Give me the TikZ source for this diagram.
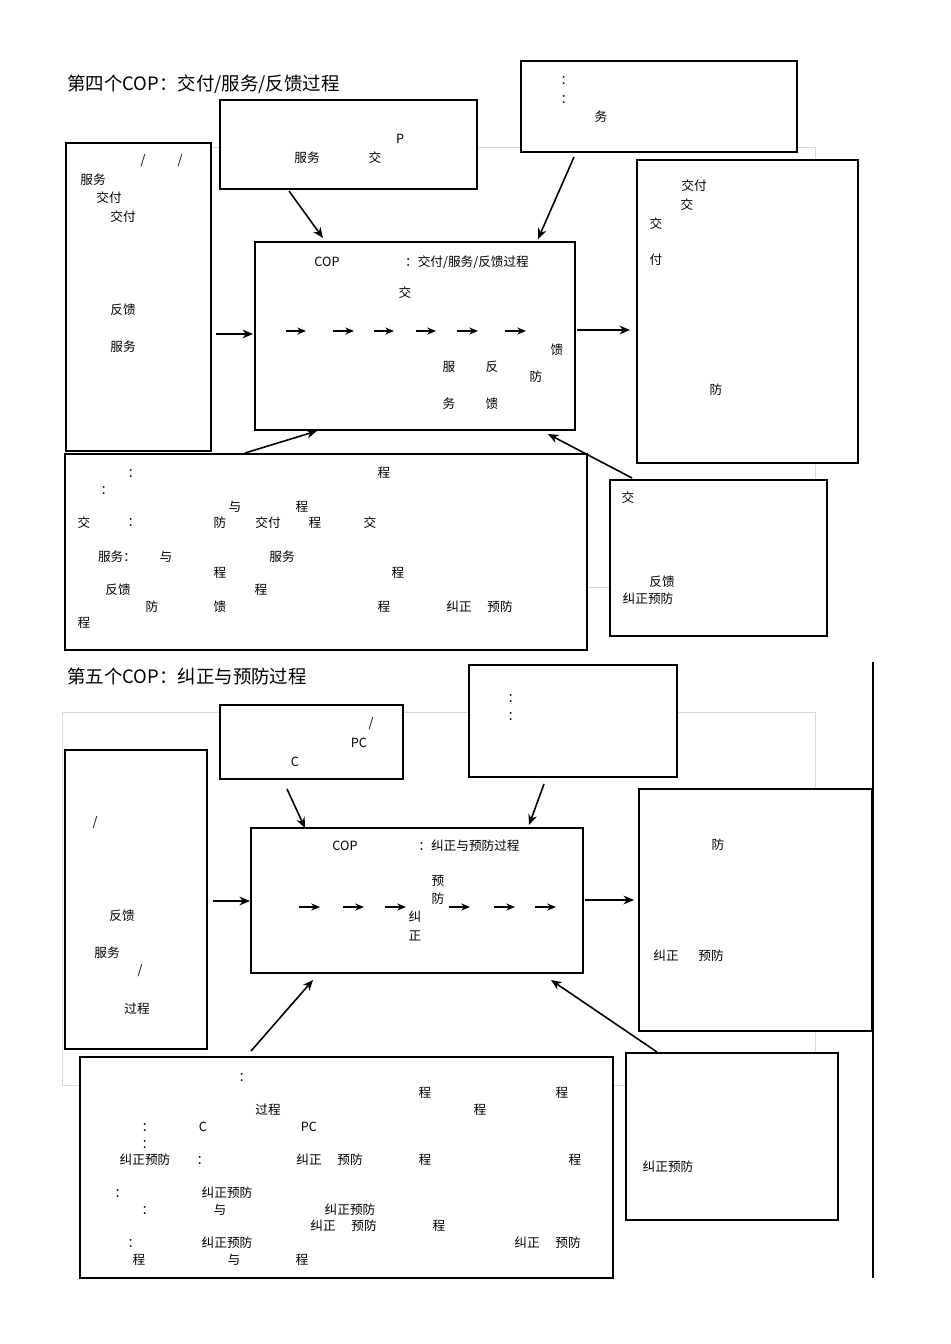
\documentclass[tikz,border=0pt]{standalone}
\usepackage{fontspec}
\setmainfont{Noto Sans CJK SC}
\usetikzlibrary{arrows.meta}
\tikzset{
 box/.style={draw,fill=white,line width=0.7pt},
 gbox/.style={draw=black!15,line width=0.4pt},
 arr/.style={-{Stealth[length=6pt,width=5pt]},line width=0.9pt},
 sarr/.style={-{Stealth[length=5pt,width=4pt]},line width=0.8pt},
 txt/.style={inner sep=0pt,font=\fontsize{7.2}{8}\selectfont},
 ttl/.style={inner sep=0pt,anchor=west,font=\fontsize{10.5}{12}\selectfont}
}
\begin{document}
\begin{tikzpicture}[x=0.02cm,y=-0.02cm]
\useasboundingbox (0,0) rectangle (950,1344);
% ---------- top ----------
\node[ttl] (t4) at (67,84) {第四个COP：交付/服务/反馈过程};
\draw[gbox] (65,147) rectangle (815,587);
\draw[box] (66,143) rectangle (211,451) coordinate (A2); \coordinate (A1) at (66,143);
\node (A) at (138,297) {};
\node (B) at (348,145) {}; \draw[box] (220,100) rectangle (477,189);
\node (C) at (659,107) {}; \draw[box] (521,61) rectangle (797,152);
\node (D) at (415,336) {}; \draw[box] (255,242) rectangle (575,430);
\node (E) at (747,312) {}; \draw[box] (637,160) rectangle (858,463);
\node (F) at (326,552) {}; \draw[box] (65,454) rectangle (587,650);
\node (G) at (718,558) {}; \draw[box] (610,480) rectangle (827,636);
\coordinate (b1) at (289,191); \coordinate (b2) at (323,238);
\coordinate (c1) at (574,157); \coordinate (c2) at (538,239);
\coordinate (a1) at (216,334); \coordinate (a2) at (253,334);
\coordinate (d1) at (577,330); \coordinate (d2) at (630,330);
\coordinate (f1) at (245,453); \coordinate (f2) at (317,431);
\coordinate (g1) at (632,478); \coordinate (g2) at (548,434);
\foreach \p/\q in {b1/b2,c1/c2,a1/a2,d1/d2,f1/f2,g1/g2} \draw[arr] (\p) -- (\q);
\foreach \u/\v [count=\i] in {286/306,333/354,374/394,416/436,457/478,505/526}{
 \coordinate (ia\i) at (\u,331); \coordinate (ib\i) at (\v,331);
 \draw[sarr] (ia\i) -- (ib\i);}
\foreach \x/\y/\s [count=\i] in {
 143/161/{/},180/161/{/},93/180/服务,109/198/交付,123/217/交付,123/310/反馈,123/347/服务,
 400/139/P,307/158/服务,375/158/交,
 567/81/：,567/100/：,601/117/务,
 327/262/COP,467/262/{：交付/服务/反馈过程},405/293/交,557/350/馈,449/367/服,492/367/反,536/377/防,449/404/务,492/404/馈,
 694/186/交付,687/205/交,656/224/交,656/260/付,716/390/防,
 134/474/：,384/473/程,107/491/：,235/507/与,302/507/程,
 84/523/交,134/523/：,220/523/防,268/523/交付,315/523/程,370/523/交,
 117/557/服务：,166/557/与,282/557/服务,220/573/程,398/573/程,118/590/反馈,261/590/程,
 152/607/防,220/607/馈,384/607/程,459/607/纠正,500/607/预防,84/623/程,
 628/498/交,662/582/反馈,648/599/纠正预防}
 \node[txt] (ta\i) at (\x,\y) {\s};
% ---------- bottom ----------
\node[ttl] (t5) at (67,676) {第五个COP：纠正与预防过程};
\coordinate (v1) at (873,662); \coordinate (v2) at (873,1278);
\draw[line width=0.7pt] (v1) -- (v2);
\draw[gbox] (62,712) rectangle (815,1085);
\node (H) at (311,742) {}; \draw[box] (220,705) rectangle (403,779);
\node (I) at (573,721) {}; \draw[box] (469,665) rectangle (677,777);
\node (J) at (136,900) {}; \draw[box] (65,750) rectangle (207,1049);
\node (K) at (417,900) {}; \draw[box] (251,828) rectangle (583,973);
\node (L) at (755,910) {}; \draw[box] (639,789) rectangle (872,1031);
\node (M) at (346,1167) {}; \draw[box] (80,1057) rectangle (613,1278);
\node (N) at (732,1136) {}; \draw[box] (626,1053) rectangle (838,1220);
\coordinate (h1) at (287,789); \coordinate (h2) at (305,828);
\coordinate (i1) at (544,784); \coordinate (i2) at (529,825);
\coordinate (j1) at (213,901); \coordinate (j2) at (250,901);
\coordinate (k1) at (585,900); \coordinate (k2) at (634,900);
\coordinate (m1) at (251,1051); \coordinate (m2) at (313,980);
\coordinate (n1) at (657,1052); \coordinate (n2) at (551,980);
\foreach \p/\q in {h1/h2,i1/i2,j1/j2,k1/k2,m1/m2,n1/n2} \draw[arr] (\p) -- (\q);
\foreach \u/\v [count=\i] in {299/320,343/364,385/406,449/470,494/515,535/556}{
 \coordinate (ja\i) at (\u,907); \coordinate (jb\i) at (\v,907);
 \draw[sarr] (ja\i) -- (jb\i);}
\foreach \x/\y/\s [count=\i] in {
 371/724/{/},359/743/PC,295/762/C,514/698/：,514/716/：,
 95/823/{/},122/916/反馈,107/953/服务,140/971/{/},137/1009/过程,
 345/846/COP,469/846/：纠正与预防过程,438/881/预,438/899/防,415/917/纠,415/936/正,
 718/845/防,666/956/纠正,711/956/预防,
 245/1077/：,425/1093/程,562/1093/程,268/1110/过程,480/1110/程,
 148/1127/：,203/1127/C,309/1127/PC,148/1144/：,
 145/1160/纠正预防,203/1160/：,309/1160/纠正,350/1160/预防,425/1160/程,575/1160/程,
 121/1193/：,227/1193/纠正预防,148/1210/：,220/1210/与,350/1210/纠正预防,
 323/1226/纠正,364/1226/预防,439/1226/程,
 134/1243/：,227/1243/纠正预防,527/1243/纠正,568/1243/预防,
 139/1260/程,234/1260/与,302/1260/程,668/1167/纠正预防}
 \node[txt] (tb\i) at (\x,\y) {\s};
\end{tikzpicture}
\end{document}
